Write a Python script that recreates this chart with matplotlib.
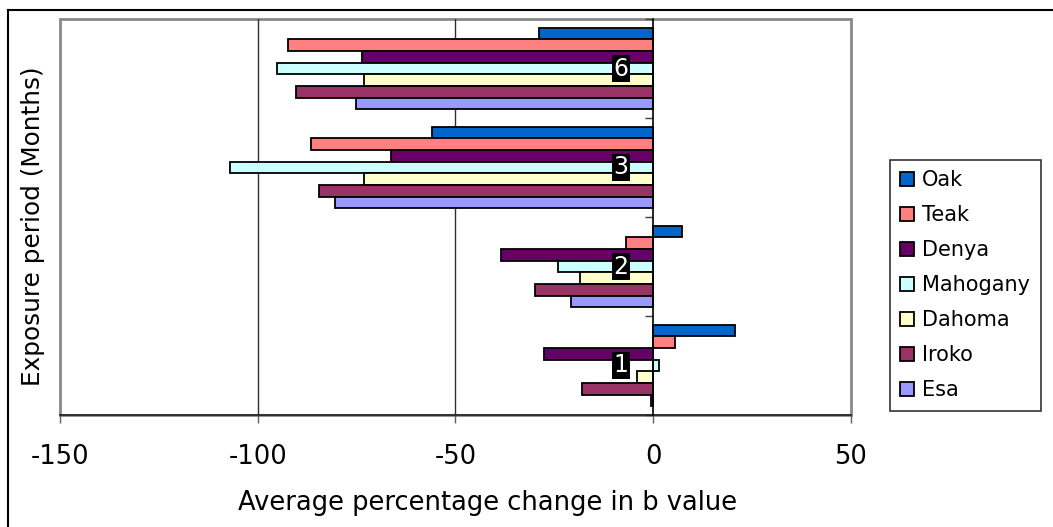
import numpy as np
import matplotlib
matplotlib.use("Agg")
import matplotlib.pyplot as plt
from matplotlib.patches import Rectangle
from matplotlib.lines import Line2D

# Exposure periods (months), bottom to top
periods = ["1", "2", "3", "6"]

# Average percentage change in b value per species and exposure period
oak = [20.6, 7.3, -56.0, -29.0]
teak = [5.4, -7.0, -86.6, -92.4]
denya = [-27.7, -38.6, -66.2, -73.7]
mahogany = [1.5, -24.2, -107.0, -95.2]
dahoma = [-4.2, -18.4, -73.1, -73.1]
iroko = [-18.1, -30.0, -84.6, -90.4]
esa = [-0.6, -20.9, -80.5, -75.2]

species = ["Oak", "Teak", "Denya", "Mahogany", "Dahoma", "Iroko", "Esa"]
series = [oak, teak, denya, mahogany, dahoma, iroko, esa]
colors = ["#0066CC", "#FF8080", "#660066", "#CCFFFF", "#FFFFCC", "#993366", "#9999FF"]

W, H = 1053, 527
fig = plt.figure(figsize=(W / 100, H / 100), dpi=100)
ax = fig.add_axes([60 / W, 1 - 415 / H, (851 - 60) / W, (415 - 19) / H])

n = len(series)
group = 7 / 8.5
h = group / n
y = np.arange(len(periods))
handles = []
for i, (name, vals, col) in enumerate(zip(species, series, colors)):
    off = (n - 1) / 2 - i
    b = ax.barh(y + off * h, vals, height=h, color=col, edgecolor="black",
                linewidth=1.3, label=name, zorder=3)
    handles.append(b)

ax.set_xlim(-150, 50)
ax.set_ylim(-0.5, len(periods) - 0.5)
ax.set_xticks([-150, -100, -50, 0, 50])
ax.set_xticklabels(["-150", "-100", "-50", "0", "50"], fontsize=18.5)
ax.tick_params(axis="x", direction="out", length=6, width=1, color="#606060", pad=15)

# vertical gridlines
for gx in [-100, -50]:
    ax.axvline(gx, color="#303030", linewidth=1, zorder=1)

# plot-area border in gray
ax.add_patch(Rectangle((0, 0), 1, 1, transform=ax.transAxes, fill=False,
                       edgecolor="#888888", linewidth=2, clip_on=False, zorder=0))
for s in ["top", "right"]:
    ax.spines[s].set_visible(False)
ax.spines["bottom"].set_color("#202020")
ax.spines["bottom"].set_linewidth(1.2)

# category axis crossing at zero
ax.spines["left"].set_position(("data", 0))
ax.spines["left"].set_color("black")
ax.spines["left"].set_linewidth(1.2)
ax.spines["left"].set_zorder(4)
ax.set_yticks(np.arange(len(periods) + 1) - 0.5)
ax.set_yticklabels([])
ax.tick_params(axis="y", direction="out", length=6, width=1, color="#404040")

for yi, lab in zip(y, periods):
    ax.annotate(lab, xy=(0, yi), xytext=(-32, 0), textcoords="offset pixels",
                ha="center", va="center", color="white", fontsize=17, zorder=6,
                bbox=dict(boxstyle="square,pad=0.06", facecolor="black", edgecolor="none"))

fig.text(488 / W, 1 - 503 / H, "Average percentage change in b value",
         ha="center", va="center", fontsize=18.5)
fig.text(33 / W, 1 - 226 / H, "Exposure period (Months)", rotation=90,
         ha="center", va="center", fontsize=17.8)

leg = fig.legend(handles=handles, labels=species, loc="upper left",
                 bbox_to_anchor=(890 / W, 1 - 160 / H), fontsize=15,
                 frameon=True, fancybox=False, edgecolor="black",
                 handlelength=0.65, handleheight=0.65, handletextpad=0.4,
                 labelspacing=0.72, borderpad=0.5, borderaxespad=0)
leg.get_frame().set_linewidth(1.2)

# outer chart-area frame
fig.add_artist(Line2D([8 / W, 1], [1 - 10 / H, 1 - 10 / H], transform=fig.transFigure,
                      color="black", linewidth=1.5))
fig.add_artist(Line2D([8 / W, 8 / W], [0, 1 - 10 / H], transform=fig.transFigure,
                      color="black", linewidth=1.5))

fig.savefig("out.png", dpi=100)
